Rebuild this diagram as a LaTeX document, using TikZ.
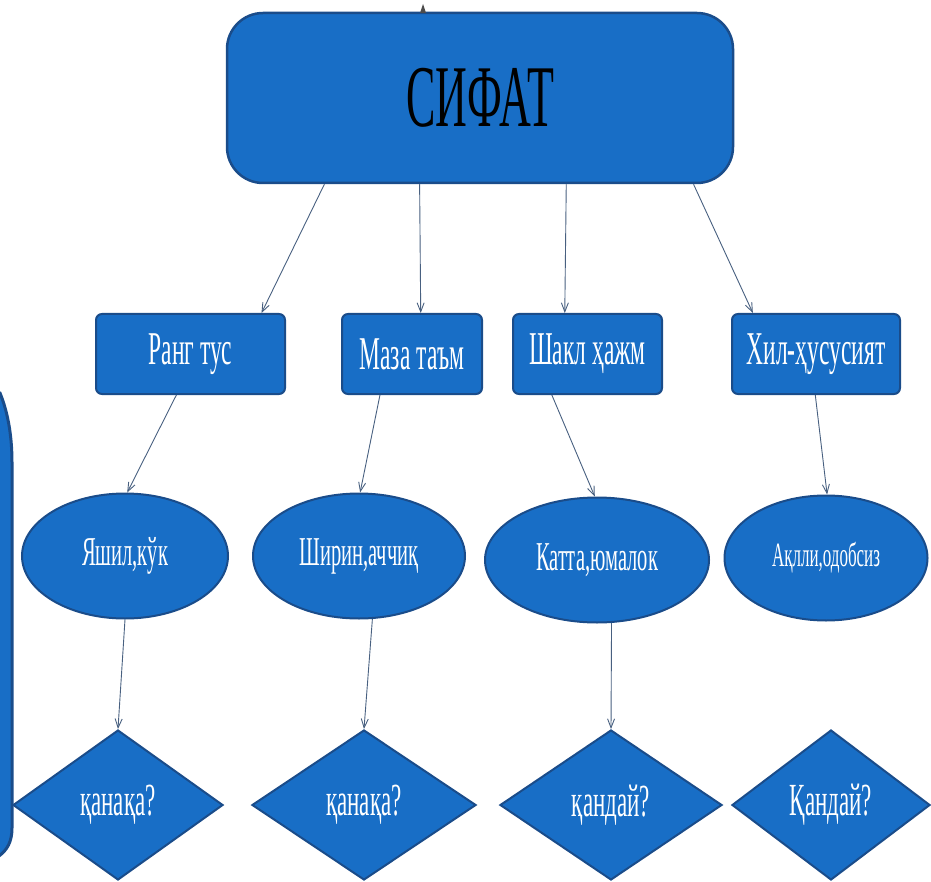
\documentclass[tikz,border=0pt]{standalone}
\usepackage{fontspec}
\setmainfont{Liberation Serif}
\newfontfamily\slidefont[FakeStretch=0.5]{Liberation Serif}
\usetikzlibrary{shapes.geometric,arrows.meta}
\definecolor{slideblue}{RGB}{24,110,198}
\definecolor{edgeblue}{RGB}{26,76,138}
\definecolor{arrowgray}{RGB}{72,96,128}
\begin{document}
\begin{tikzpicture}[x=1pt,y=-1pt,>={Straight Barb[length=9pt,width=7pt]},
    titlebox/.style={draw=edgeblue,line width=2.5pt,fill=slideblue,rounded corners=36pt,
      minimum width=506pt,minimum height=170pt,inner sep=0pt,
      font=\slidefont\fontsize{88}{90}\selectfont},
    kindbox/.style={draw=edgeblue,line width=2pt,fill=slideblue,rounded corners=6pt,
      minimum height=80pt,inner sep=0pt,text=white,
      font=\slidefont\fontsize{47}{50}\selectfont},
    ovalnode/.style={ellipse,draw=edgeblue,line width=2pt,fill=slideblue,
      minimum height=125pt,inner sep=0pt,text=white,
      font=\slidefont\fontsize{41}{44}\selectfont},
    askdiamond/.style={diamond,draw=edgeblue,line width=2pt,fill=slideblue,
      minimum height=150pt,inner sep=0pt,text=white,
      font=\slidefont\fontsize{46}{48}\selectfont},
    link/.style={->,draw=arrowgray,line width=0.9pt}]
    \useasboundingbox (0,0) rectangle (931,882) ;
    \draw [edgeblue,line width=3pt,fill=slideblue] (-10,390) -- (0,393)
      .. controls (9,415) and (12,440) .. (12,462) -- (12,828)
      .. controls (12,842) and (7,850) .. (-1,856) -- (-10,856) -- cycle ;
    \node [titlebox] (sifat) at (480,98) {СИФАТ} ;
    \fill [gray!60!black] (420,13) -- (423,4) -- (426,13) -- cycle ;
    \node [kindbox,minimum width=189pt] (rang) at (190.5,354) {Ранг тус} ;
    \node [kindbox,minimum width=140pt] (maza) at (412,354) {Маза таъм} ;
    \node [kindbox,minimum width=149pt] (shakl) at (587.5,354) {Шакл ҳажм} ;
    \node [kindbox,minimum width=168pt] (hil) at (816,354) {Хил-ҳусусият} ;
    \node [ovalnode,minimum width=206pt] (yashil) at (125,556) {Яшил,кўк} ;
    \node [ovalnode,minimum width=212pt] (shirin) at (359,556) {Ширин,аччиқ} ;
    \node [ovalnode,minimum width=224pt] (katta) at (597,560) {Катта,юмалок} ;
    \node [ovalnode,minimum width=203pt,font=\slidefont\fontsize{34}{36}\selectfont] (aqlli) at (826,558) {Ақлли,одобсиз} ;
    \node [askdiamond,minimum width=210pt] (savol1) at (118,805) {қанақа?} ;
    \node [askdiamond,minimum width=224pt] (savol2) at (364,805) {қанақа?} ;
    \node [askdiamond,minimum width=222pt] (savol3) at (611,805) {қандай?} ;
    \node [askdiamond,minimum width=198pt] (savol4) at (831,805) {Қандай?} ;
    \draw [link] (sifat.-151) -- (rang.30.6) ;
    \draw [link] (sifat.-125.2) -- (maza.78.7) ;
    \draw [link] (sifat.-45) -- (shakl.119.4) ;
    \draw [link] (sifat.-22) -- (hil.147.6) ;
    \draw [link] (rang.-109.9) -- (yashil.88) ;
    \draw [link] (maza.-128.7) -- (shirin.89) ;
    \draw [link] (shakl.-131.6) -- (katta.92) ;
    \draw [link] (hil.-91.4) -- (aqlli.89) ;
    \draw [link] (yashil.-90) -- (savol1.north) ;
    \draw [link] (shirin.-78) -- (savol2.north) ;
    \draw [link] (katta.-77.5) -- (savol3.north) ;
  \end{tikzpicture}
\end{document}
